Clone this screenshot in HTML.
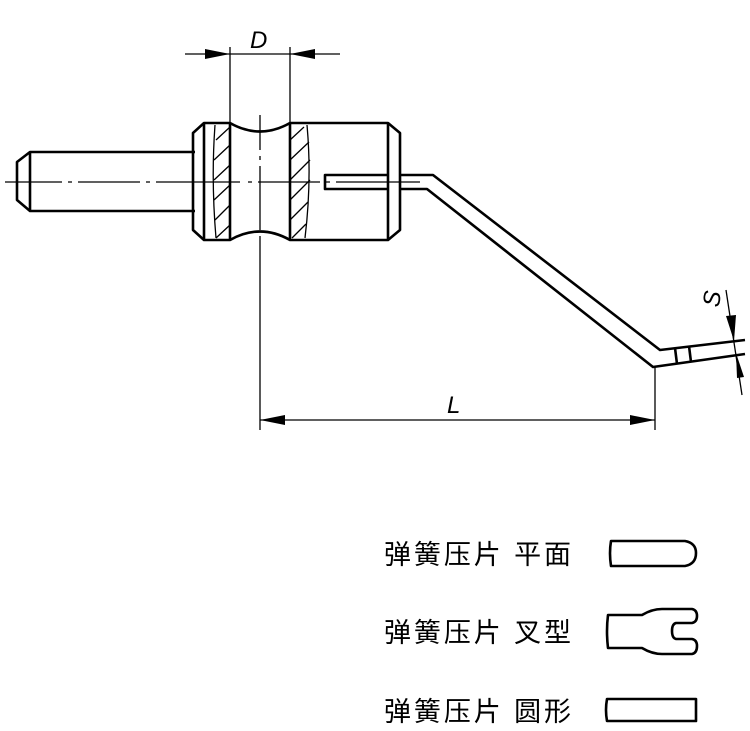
<!DOCTYPE html><html><head><style>body{margin:0;background:#fff}svg{display:block}</style></head><body>
<svg width="750" height="731" viewBox="0 0 750 731" xmlns="http://www.w3.org/2000/svg">
<g fill="none" stroke="#000" stroke-width="2.6" stroke-linejoin="round">
<path d="M195,152 H30 L17,162 V200 L30,211 H195"/>
<line x1="30" y1="152" x2="30" y2="211"/>
<path d="M204,123 H230 Q260,140 290,123 H388 L400,133 V230 L388,240 H290 Q260,223 230,240 H204 L193,230 V133 Z"/>
<line x1="204" y1="123" x2="204" y2="240"/>
<line x1="388" y1="123" x2="388" y2="240"/>
<line x1="230" y1="123" x2="230" y2="240"/>
<line x1="290" y1="123" x2="290" y2="240"/>
<path d="M388,175 H325 V189 H388"/>
<path d="M400,175 H433 L660,350 L745,340"/>
<path d="M400,189 H427 L653,367 L745,354"/>
<line x1="675" y1="348" x2="677" y2="364"/>
<line x1="689" y1="346" x2="691" y2="362"/>
</g>
<g fill="none" stroke="#000" stroke-width="1.3">
<path d="M215,125 Q211,180 216,238"/>
<path d="M307,125 Q312,180 305,238"/>
<path d="M216,140 L230,127 M214,160 L230,145 M214,180 L230,165 M214,200 L230,185 M215,220 L230,205 M216,238 L230,225"/>
<path d="M290,140 L304,127 M290,160 L309,142 M290,180 L310,160 M290,200 L310,180 M290,220 L308,202 M292,238 L306,224"/>
<path d="M5,182 H62 M68,182 H72 M78,182 H140 M146,182 H150 M156,182 H240 M248,182 H252 M258,182 H320 M326,182 H330 M336,182 H420" />
<path d="M260,115 V150 M260,156 V160 M260,166 V230 M260,236 V430"/>
<path d="M230,47 V123 M290,47 V123 M185,54 H340"/>
<path d="M655,367 V430 M260,420 H655"/>
<path d="M726,290 L742,395"/>
</g>
<g fill="#000">
<polygon points="230,54 205,49 205,59"/>
<polygon points="290,54 315,49 315,59"/>
<polygon points="260,420 285,415 285,425"/>
<polygon points="655,420 630,415 630,425"/>
<polygon points="734,341 726,316 736,315"/>
<polygon points="736,353 737,378 744,377"/>
</g>
<g font-family="Liberation Sans, sans-serif" font-style="italic" font-size="24">
<text x="250" y="48">D</text>
<text x="447" y="413">L</text>
<text transform="translate(720,300) rotate(-82)" text-anchor="middle" y="0">S</text>
</g>
<g font-family="Liberation Sans, 'Noto Sans CJK SC', sans-serif" font-size="27">
<text x="384" y="564" textLength="187" lengthAdjust="spacing">弹簧压片 平面</text>
<text x="384" y="642" textLength="187" lengthAdjust="spacing">弹簧压片 叉型</text>
<text x="384" y="721" textLength="187" lengthAdjust="spacing">弹簧压片 圆形</text>
</g>
<g fill="none" stroke="#000" stroke-width="2.6" stroke-linejoin="round">
<path d="M611,541 H685 Q696,543 696,553 Q696,564 685,566 H611 Q609,553 611,541 Z"/>
<path d="M608,615 H642 Q652,609 662,609 H692 Q697,610 697,616 Q697,622 692,623 H676 Q672,624 672,631 Q672,638 676,639 H692 Q697,640 697,646 Q697,653 692,654 H662 Q652,654 642,648 H608 Q606,631 608,615 Z"/>
<path d="M607,699 H696 V721 H607 Q605,710 607,699 Z"/>
</g>
</svg>
</body></html>
